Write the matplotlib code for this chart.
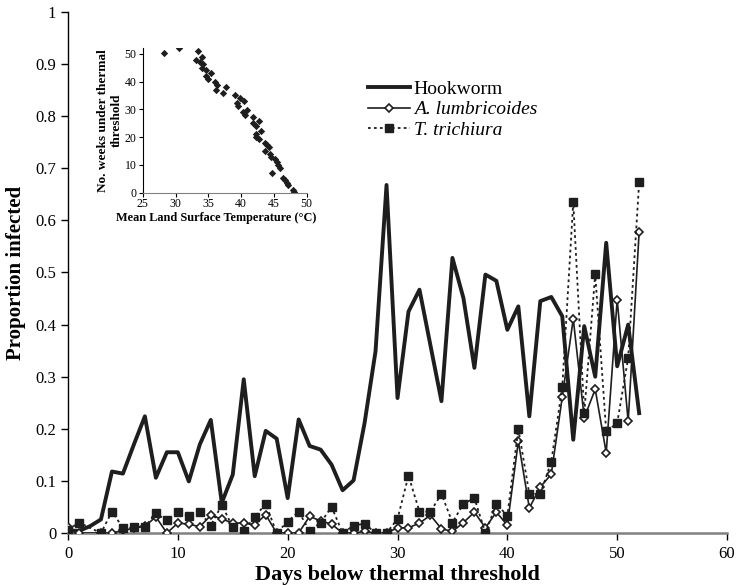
import numpy as np
import matplotlib
matplotlib.use("Agg")
import matplotlib.pyplot as plt

plt.rcParams['font.family'] = ['Liberation Serif', 'DejaVu Serif']

# days below the thermal threshold (x) and proportion infected per helminth
days = np.arange(0, 53)
hookworm = [0.005, 0.004, 0.013, 0.026, 0.118, 0.114, 0.17, 0.224, 0.106, 0.155,
            0.155, 0.099, 0.17, 0.217, 0.058, 0.112, 0.295, 0.109, 0.196, 0.181,
            0.067, 0.218, 0.167, 0.16, 0.131, 0.082, 0.101, 0.211, 0.349, 0.668,
            0.259, 0.425, 0.467, 0.36, 0.253, 0.528, 0.451, 0.317, 0.496, 0.484,
            0.39, 0.435, 0.224, 0.445, 0.453, 0.416, 0.179, 0.397, 0.30, 0.557,
            0.32, 0.40, 0.23]
ascaris = [0.011, 0.0, np.nan, 0.0, 0.0, 0.005, 0.009, 0.013, 0.031, 0.0,
           0.019, 0.017, 0.012, 0.034, 0.027, 0.019, 0.019, 0.016, 0.035, 0.0,
           0.0, 0.0, 0.032, 0.023, 0.017, 0.0, 0.0, 0.003, 0.0, 0.0,
           0.01, 0.01, 0.019, 0.034, 0.008, 0.003, 0.02, 0.04, 0.01, 0.04,
           0.015, 0.176, 0.048, 0.088, 0.113, 0.261, 0.411, 0.221, 0.276, 0.154,
           0.448, 0.214, 0.578]
trichuris = [0.006, 0.02, np.nan, 0.0, 0.041, 0.01, 0.012, 0.012, 0.038, 0.024,
             0.04, 0.033, 0.04, 0.014, 0.054, 0.011, 0.004, 0.031, 0.056, 0.0,
             0.022, 0.041, 0.004, 0.02, 0.05, 0.0, 0.014, 0.018, 0.0, 0.0,
             0.027, 0.11, 0.041, 0.041, 0.075, 0.02, 0.056, 0.067, 0.0, 0.056,
             0.033, 0.2, 0.075, 0.075, 0.137, 0.28, 0.635, 0.23, 0.497, 0.195,
             0.211, 0.336, 0.673]

# inset: mean land surface temperature vs weeks under threshold
lst = [28.2, 30.6, 33.5, 33.1, 34.1, 33.8, 34.2, 34.0, 34.7, 35.4, 34.6, 35.0,
       36.0, 36.4, 36.1, 37.2, 37.7, 39.1, 39.8, 40.5, 39.4, 39.5, 40.9, 40.3,
       40.6, 41.8, 42.8, 41.8, 42.2, 43.1, 42.2, 42.3, 42.8, 43.7, 43.9, 44.2,
       43.7, 44.4, 44.6, 45.2, 45.4, 45.7, 45.9, 44.7, 46.4, 46.7, 47.0, 47.2,
       47.9, 48.0]
weeks = [50.1, 52.1, 51.0, 47.9, 48.9, 47.1, 46.2, 45.0, 44.1, 42.9, 41.9, 40.8,
         39.9, 38.9, 36.9, 36.0, 38.1, 35.1, 34.1, 32.9, 32.1, 31.1, 29.9, 28.9,
         27.9, 27.1, 25.9, 24.9, 24.0, 22.3, 21.1, 20.1, 19.2, 18.0, 17.1, 16.3,
         15.1, 13.9, 12.9, 12.0, 11.0, 9.9, 9.0, 7.2, 5.4, 4.6, 3.6, 2.6,
         1.0, 0.1]


def valid(y):
    y = np.asarray(y, dtype=float)
    m = ~np.isnan(y)
    return days[m], y[m]


fig = plt.figure(figsize=(7.36, 5.85), dpi=100)
ax = fig.add_axes([0.0924, 0.0889, 0.8954, 0.8906])

ax.plot(days, hookworm, color='#1e1e1e', lw=2.8, label='Hookworm', zorder=3)
xa, ya = valid(ascaris)
ax.plot(xa, ya, color='#1e1e1e', lw=1.2, marker='D', ms=4.5, mfc='white',
        mec='#1e1e1e', mew=1.2, label='A. lumbricoides', zorder=4)
xt, yt = valid(trichuris)
ax.plot(xt, yt, color='#1e1e1e', lw=1.3, ls=(0, (1.5, 1.8)), marker='s', ms=6,
        mfc='#1e1e1e', mec='#1e1e1e', label='T. trichiura', zorder=5)

ax.set_xlim(0, 60)
ax.set_ylim(0, 1)
ax.set_xticks(range(0, 61, 10))
ax.set_yticks(np.arange(0, 1.01, 0.1))
ax.set_yticklabels(['0', '0.1', '0.2', '0.3', '0.4', '0.5', '0.6', '0.7', '0.8', '0.9', '1'])
ax.spines['top'].set_visible(False)
ax.spines['right'].set_visible(False)
ax.spines['bottom'].set_color('#808080')
ax.spines['bottom'].set_linewidth(1.8)
ax.spines['left'].set_linewidth(1.0)
ax.tick_params(axis='both', labelsize=12, direction='out', length=5, width=1)
ax.tick_params(axis='x', pad=4.5)
ax.set_xlabel('Days below thermal threshold', fontsize=16, fontweight='bold')
ax.xaxis.set_label_coords(0.5, -0.061)
ax.set_ylabel('Proportion infected', fontsize=15, fontweight='bold', labelpad=7)

leg = ax.legend(loc='upper left', bbox_to_anchor=(0.4545, 0.869), frameon=False,
                fontsize=14, handlelength=2.2, handletextpad=0.18, labelspacing=0.15,
                borderaxespad=0, borderpad=0)
for t in leg.get_texts()[1:]:
    t.set_fontstyle('italic')

# inset scatter
ins = fig.add_axes([0.1939, 0.6706, 0.2228, 0.2471])
ins.scatter(lst, weeks, marker='D', s=14, color='#1e1e1e', linewidths=0)
ins.set_xlim(25, 50)
ins.set_ylim(0, 52)
ins.set_xticks(range(25, 51, 5))
ins.set_yticks(range(0, 51, 10))
ins.spines['top'].set_visible(False)
ins.spines['right'].set_visible(False)
ins.spines['bottom'].set_color('#808080')
ins.tick_params(axis='both', labelsize=8.5, direction='out', length=3, width=0.8, pad=1.5)
ins.tick_params(axis='x', pad=0.8)
ins.set_xlabel('Mean Land Surface Temperature (\u00b0C)', fontsize=8.8, fontweight='bold')
ins.xaxis.set_label_coords(0.447, -0.135)
ins.set_ylabel('No. weeks under thermal\nthreshold', fontsize=9.5, fontweight='bold', labelpad=1)
ins.patch.set_alpha(0)

fig.savefig('out.png', dpi=100)
